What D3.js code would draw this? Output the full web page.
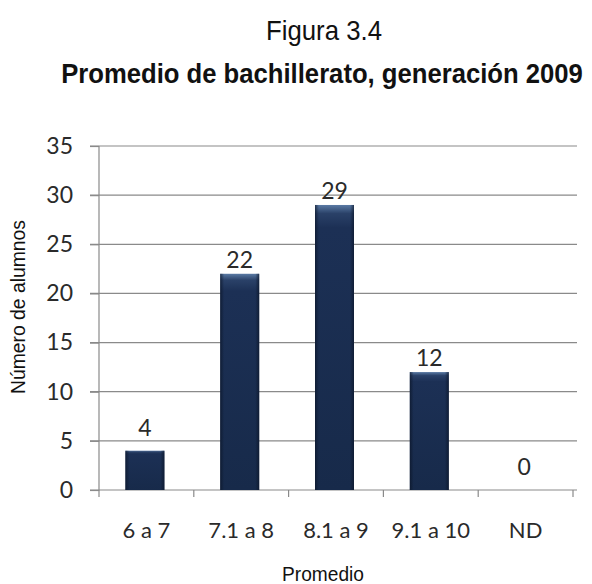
<!DOCTYPE html>
<html>
<head>
<meta charset="utf-8">
<script src="https://cdn.jsdelivr.net/npm/d3@7"></script>
<style>
  body { margin: 0; background: #fff; }
  svg { display: block; }
</style>
</head>
<body>
<div id="chart"></div>
<script>
const categories = ["6 a 7", "7.1 a 8", "8.1 a 9", "9.1 a 10", "ND"];
const alumnos = [4, 22, 29, 12, 0];
const yTicks = [0, 5, 10, 15, 20, 25, 30, 35];

const width = 592, height = 584;
const margin = { top: 146, right: 19, bottom: 94, left: 99 };
const arial = "'Liberation Sans', Arial, sans-serif";
const calib = "Lato, Carlito, Calibri, sans-serif";

const svg = d3.select("#chart").append("svg")
  .attr("width", width).attr("height", height);

// narrow text: squeeze horizontally to a target width
function narrowText(cx, cy, str, size, weight, target, rotate) {
  const t = svg.append("text").attr("text-anchor", "middle")
    .style("font-family", arial).style("font-size", size + "px")
    .style("font-weight", weight).attr("fill", "#111").text(str);
  const k = target / t.node().getComputedTextLength();
  t.attr("transform", `translate(${cx},${cy})${rotate ? " rotate(-90)" : ""} scale(${k},1)`);
  return t;
}

const defs = svg.append("defs");
const grad = defs.append("linearGradient").attr("id", "barGrad")
  .attr("x1", 0).attr("y1", 0).attr("x2", 0).attr("y2", 1);
grad.append("stop").attr("offset", "0%").attr("stop-color", "#5a7aa4");
grad.append("stop").attr("offset", "3%").attr("stop-color", "#2a4168");
grad.append("stop").attr("offset", "8%").attr("stop-color", "#1c3055");
grad.append("stop").attr("offset", "100%").attr("stop-color", "#172a4a");
const side = defs.append("linearGradient").attr("id", "sideGrad")
  .attr("x1", 0).attr("y1", 0).attr("x2", 1).attr("y2", 0);
side.append("stop").attr("offset", "0%").attr("stop-color", "#0b1528").attr("stop-opacity", 0.7);
side.append("stop").attr("offset", "10%").attr("stop-color", "#0b1528").attr("stop-opacity", 0);
side.append("stop").attr("offset", "90%").attr("stop-color", "#0b1528").attr("stop-opacity", 0);
side.append("stop").attr("offset", "100%").attr("stop-color", "#0b1528").attr("stop-opacity", 0.7);

const x = d3.scaleBand().domain(categories)
  .range([margin.left, width - margin.right]).paddingInner(0).paddingOuter(0);
const y = d3.scaleLinear().domain([0, 35])
  .range([height - margin.bottom, margin.top]);

// titles
narrowText(324, 40, "Figura 3.4", 27, "normal", 116);
narrowText(322, 83, "Promedio de bachillerato, generación 2009", 28, "bold", 522);

// gridlines
svg.append("g").selectAll("line").data(yTicks.filter(d => d > 0)).join("line")
  .attr("x1", margin.left - 9).attr("x2", 577)
  .attr("y1", d => y(d)).attr("y2", d => y(d))
  .attr("stroke", "#8a8a8a").attr("stroke-width", 1.2);

// y axis
const yAxis = svg.append("g").attr("transform", `translate(${margin.left},0)`)
  .call(d3.axisLeft(y).tickValues(yTicks).tickSize(9).tickPadding(17));
yAxis.select(".domain").attr("stroke", "#8a8a8a").attr("stroke-width", 1.2)
  .attr("d", `M-9,${y(0)}H0V${y(35)}`);
yAxis.selectAll(".tick line").attr("stroke", "#8a8a8a").attr("stroke-width", 1.2);
yAxis.selectAll("text").style("font-family", calib).style("font-size", "23px").attr("fill", "#2a2a2a");

// x axis
const xAxis = svg.append("g").attr("transform", `translate(0,${y(0)})`)
  .call(d3.axisBottom(x).tickSize(0));
xAxis.select(".domain").attr("stroke", "#8a8a8a").attr("stroke-width", 1.2)
  .attr("d", `M${margin.left},0H577`);
xAxis.selectAll("text").attr("y", 48).attr("dy", 0)
  .style("font-family", calib).style("font-size", "22px").attr("fill", "#2a2a2a");
xAxis.append("g").selectAll("line").data(categories.concat(["end"])).join("line")
  .attr("x1", (d, i) => i < categories.length ? x(d) : x.range()[1])
  .attr("x2", (d, i) => i < categories.length ? x(d) : x.range()[1])
  .attr("y1", 0).attr("y2", 7).attr("stroke", "#8a8a8a").attr("stroke-width", 1.2);

// bars
const barW = 39;
const bars = svg.append("g").selectAll("g").data(categories).join("g");
["url(#barGrad)", "url(#sideGrad)"].forEach(fill => {
  bars.append("rect")
    .attr("x", d => x(d) + x.bandwidth() / 2 - barW / 2 - 1.5)
    .attr("y", (d, i) => y(alumnos[i]))
    .attr("width", barW)
    .attr("height", (d, i) => y(0) - y(alumnos[i]))
    .attr("fill", fill);
});

// labels
svg.append("g").selectAll("text").data(categories).join("text")
  .attr("x", d => x(d) + x.bandwidth() / 2 - 1.5)
  .attr("y", (d, i) => y(alumnos[i]) - (alumnos[i] < 5 ? 15 : 6))
  .attr("text-anchor", "middle")
  .style("font-family", calib).style("font-size", "23px").attr("fill", "#2a2a2a")
  .text((d, i) => alumnos[i]);

// axis titles
narrowText(25, 307, "Número de alumnos", 21, "normal", 174, true);
narrowText(323, 581, "Promedio", 21, "normal", 82);
</script>
</body>
</html>
